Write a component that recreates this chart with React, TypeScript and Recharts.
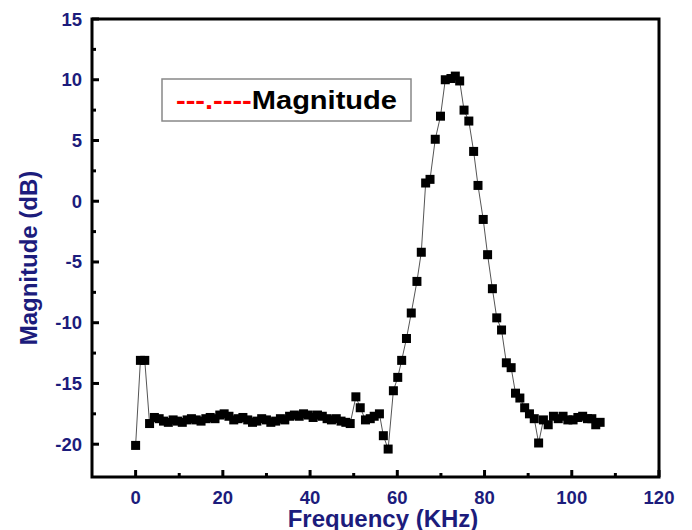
import { LineChart, Line, XAxis, YAxis, ReferenceArea, Legend } from 'recharts'

const freqs = [
  0, 1.1, 2.1, 3.2, 4.3, 5.4, 6.4, 7.5, 8.6, 9.6,
  10.7, 11.8, 12.8, 13.9, 15.0, 16.1, 17.1, 18.2, 19.3, 20.3,
  21.4, 22.5, 23.5, 24.6, 25.7, 26.8, 27.8, 28.9, 30.0, 31.0,
  32.1, 33.2, 34.2, 35.3, 36.4, 37.5, 38.5, 39.6, 40.7, 41.7,
  42.8, 43.9, 44.9, 46.0, 47.1, 48.2, 49.2, 50.5, 51.5, 52.7,
  53.8, 54.7, 55.9, 56.8, 57.9, 59.1, 60.1, 61.0, 62.1, 63.2,
  64.5, 65.5, 66.5, 67.5, 68.7, 69.9, 71.0, 72.3, 73.3, 74.3,
  75.3, 76.4, 77.5, 78.5, 79.7, 80.7, 81.8, 82.8, 83.9, 85.0,
  86.1, 87.1, 88.1, 89.2, 90.3, 91.4, 92.4, 93.5, 94.6, 95.8,
  96.9, 98.0, 99.1, 100.3, 101.4, 102.5, 103.6, 104.6, 105.5, 106.5,
]

const magnitude = [
  -20.1, -13.1, -13.1, -18.3, -17.8, -17.9, -18.1, -18.2, -18.0, -18.1,
  -18.2, -18.0, -17.9, -18.0, -18.1, -17.9, -17.8, -17.9, -17.6, -17.5,
  -17.7, -18.0, -17.9, -17.8, -18.0, -18.2, -18.1, -17.9, -18.0, -18.2,
  -18.1, -17.9, -18.0, -17.7, -17.6, -17.7, -17.5, -17.6, -17.8, -17.6,
  -17.7, -17.9, -18.0, -17.9, -18.1, -18.2, -18.3, -16.1, -17.0, -18.0,
  -17.9, -17.7, -17.5, -19.3, -20.4, -15.6, -14.5, -13.1, -11.3, -9.2,
  -6.6, -4.2, 1.5, 1.8, 5.1, 7.0, 10.0, 10.1, 10.3, 9.9,
  7.5, 6.6, 4.1, 1.3, -1.5, -4.4, -7.2, -9.6, -10.6, -13.3,
  -13.7, -15.8, -16.2, -17.0, -17.5, -17.9, -19.9, -18.0, -18.4, -17.7,
  -17.9, -17.7, -18.0, -18.0, -17.8, -17.7, -17.9, -17.9, -18.4, -18.2,
]

const xTicks = [0, 10, 20, 30, 40, 50, 60, 70, 80, 90, 100, 110, 120]
const xLabelTicks = [0, 20, 40, 60, 80, 100, 120]
const yTicks = [-20, -17.5, -15, -12.5, -10, -7.5, -5, -2.5, 0, 2.5, 5, 7.5, 10, 12.5, 15]
const yLabelTicks = [-20, -15, -10, -5, 0, 5, 10, 15]

const data = freqs.map((f, i) => ({ freq: f, mag: magnitude[i] }))

const NAVY = '#1c1c7c'
const FONT = '"Liberation Sans", Arial, sans-serif'

const BottomTick = (props: any) => {
  const { x, y, payload } = props
  const major = xLabelTicks.includes(payload.value)
  return (
    <g>
      <line x1={x} x2={x} y1={y} y2={y - (major ? 7 : 4)} stroke="#000" strokeWidth={3} />
      {major && (
        <text x={x} y={y + 27} textAnchor="middle" fill={NAVY} fontSize={18.5} fontWeight="bold" fontFamily={FONT}>
          {payload.value}
        </text>
      )}
    </g>
  )
}

const LeftTick = (props: any) => {
  const { x, y, payload } = props
  const major = yLabelTicks.includes(payload.value)
  return (
    <g>
      <line x1={x} x2={x + (major ? 7 : 4)} y1={y} y2={y} stroke="#000" strokeWidth={3} />
      {major && (
        <text x={x - 10} y={y + 6.5} textAnchor="end" fill={NAVY} fontSize={18.5} fontWeight="bold" fontFamily={FONT}>
          {payload.value}
        </text>
      )}
    </g>
  )
}

const SquareDot = (props: any) => {
  const { cx, cy, index } = props
  if (cx == null || cy == null) return <g key={index} />
  return <rect key={index} x={cx - 4.5} y={cy - 4.5} width={9} height={9} fill="#000" />
}

const LegendBox = () => (
  <svg width={252} height={45} style={{ display: 'block' }}>
    <rect x={1} y={1} width={249} height={42} fill="#fff" stroke="#888" strokeWidth={1.5} />
    <text x={15} y={31} fontSize={25} fontWeight="bold" fontFamily={FONT} textLength={221} lengthAdjust="spacingAndGlyphs">
      <tspan fill="#ff0000">---.----</tspan>
      <tspan fill="#000">Magnitude</tspan>
    </text>
  </svg>
)

export default function App() {
  return (
    <div style={{ position: 'absolute', left: 0, top: 0, width: 692, height: 530, background: '#fff' }}>
      <LineChart width={692} height={530} data={data} margin={{ top: 19, right: 33, bottom: 23, left: 32 }}>
        <XAxis
          dataKey="freq"
          type="number"
          domain={[-10, 120]}
          ticks={xTicks}
          interval={0}
          axisLine={false}
          tickLine={false}
          tickSize={0}
          tickMargin={0}
          height={30}
          tick={<BottomTick />}
          allowDataOverflow
        />
        <YAxis
          type="number"
          domain={[-22.7, 15]}
          ticks={yTicks}
          interval={0}
          axisLine={false}
          tickLine={false}
          tickSize={0}
          tickMargin={0}
          width={60}
          tick={<LeftTick />}
          allowDataOverflow
        />
        <ReferenceArea x1={-10} x2={120} y1={-22.7} y2={15} fill="none" stroke="#000" strokeWidth={3} ifOverflow="visible" />
        <Legend
          layout="horizontal"
          verticalAlign="middle"
          align="center"
          wrapperStyle={{ left: 161, top: 78, width: 'auto' }}
          content={() => <LegendBox />}
        />
        <Line
          type="linear"
          dataKey="mag"
          name="Magnitude"
          stroke="#555"
          strokeWidth={1}
          dot={<SquareDot />}
          isAnimationActive={false}
        />
        <text x={383} y={527} textAnchor="middle" fill={NAVY} fontSize={24} fontWeight="bold" fontFamily={FONT}>
          Frequency (KHz)
        </text>
        <text
          x={37}
          y={258}
          transform="rotate(-90 37 258)"
          textAnchor="middle"
          fill={NAVY}
          fontSize={24}
          fontWeight="bold"
          fontFamily={FONT}
        >
          Magnitude (dB)
        </text>
      </LineChart>
    </div>
  )
}
